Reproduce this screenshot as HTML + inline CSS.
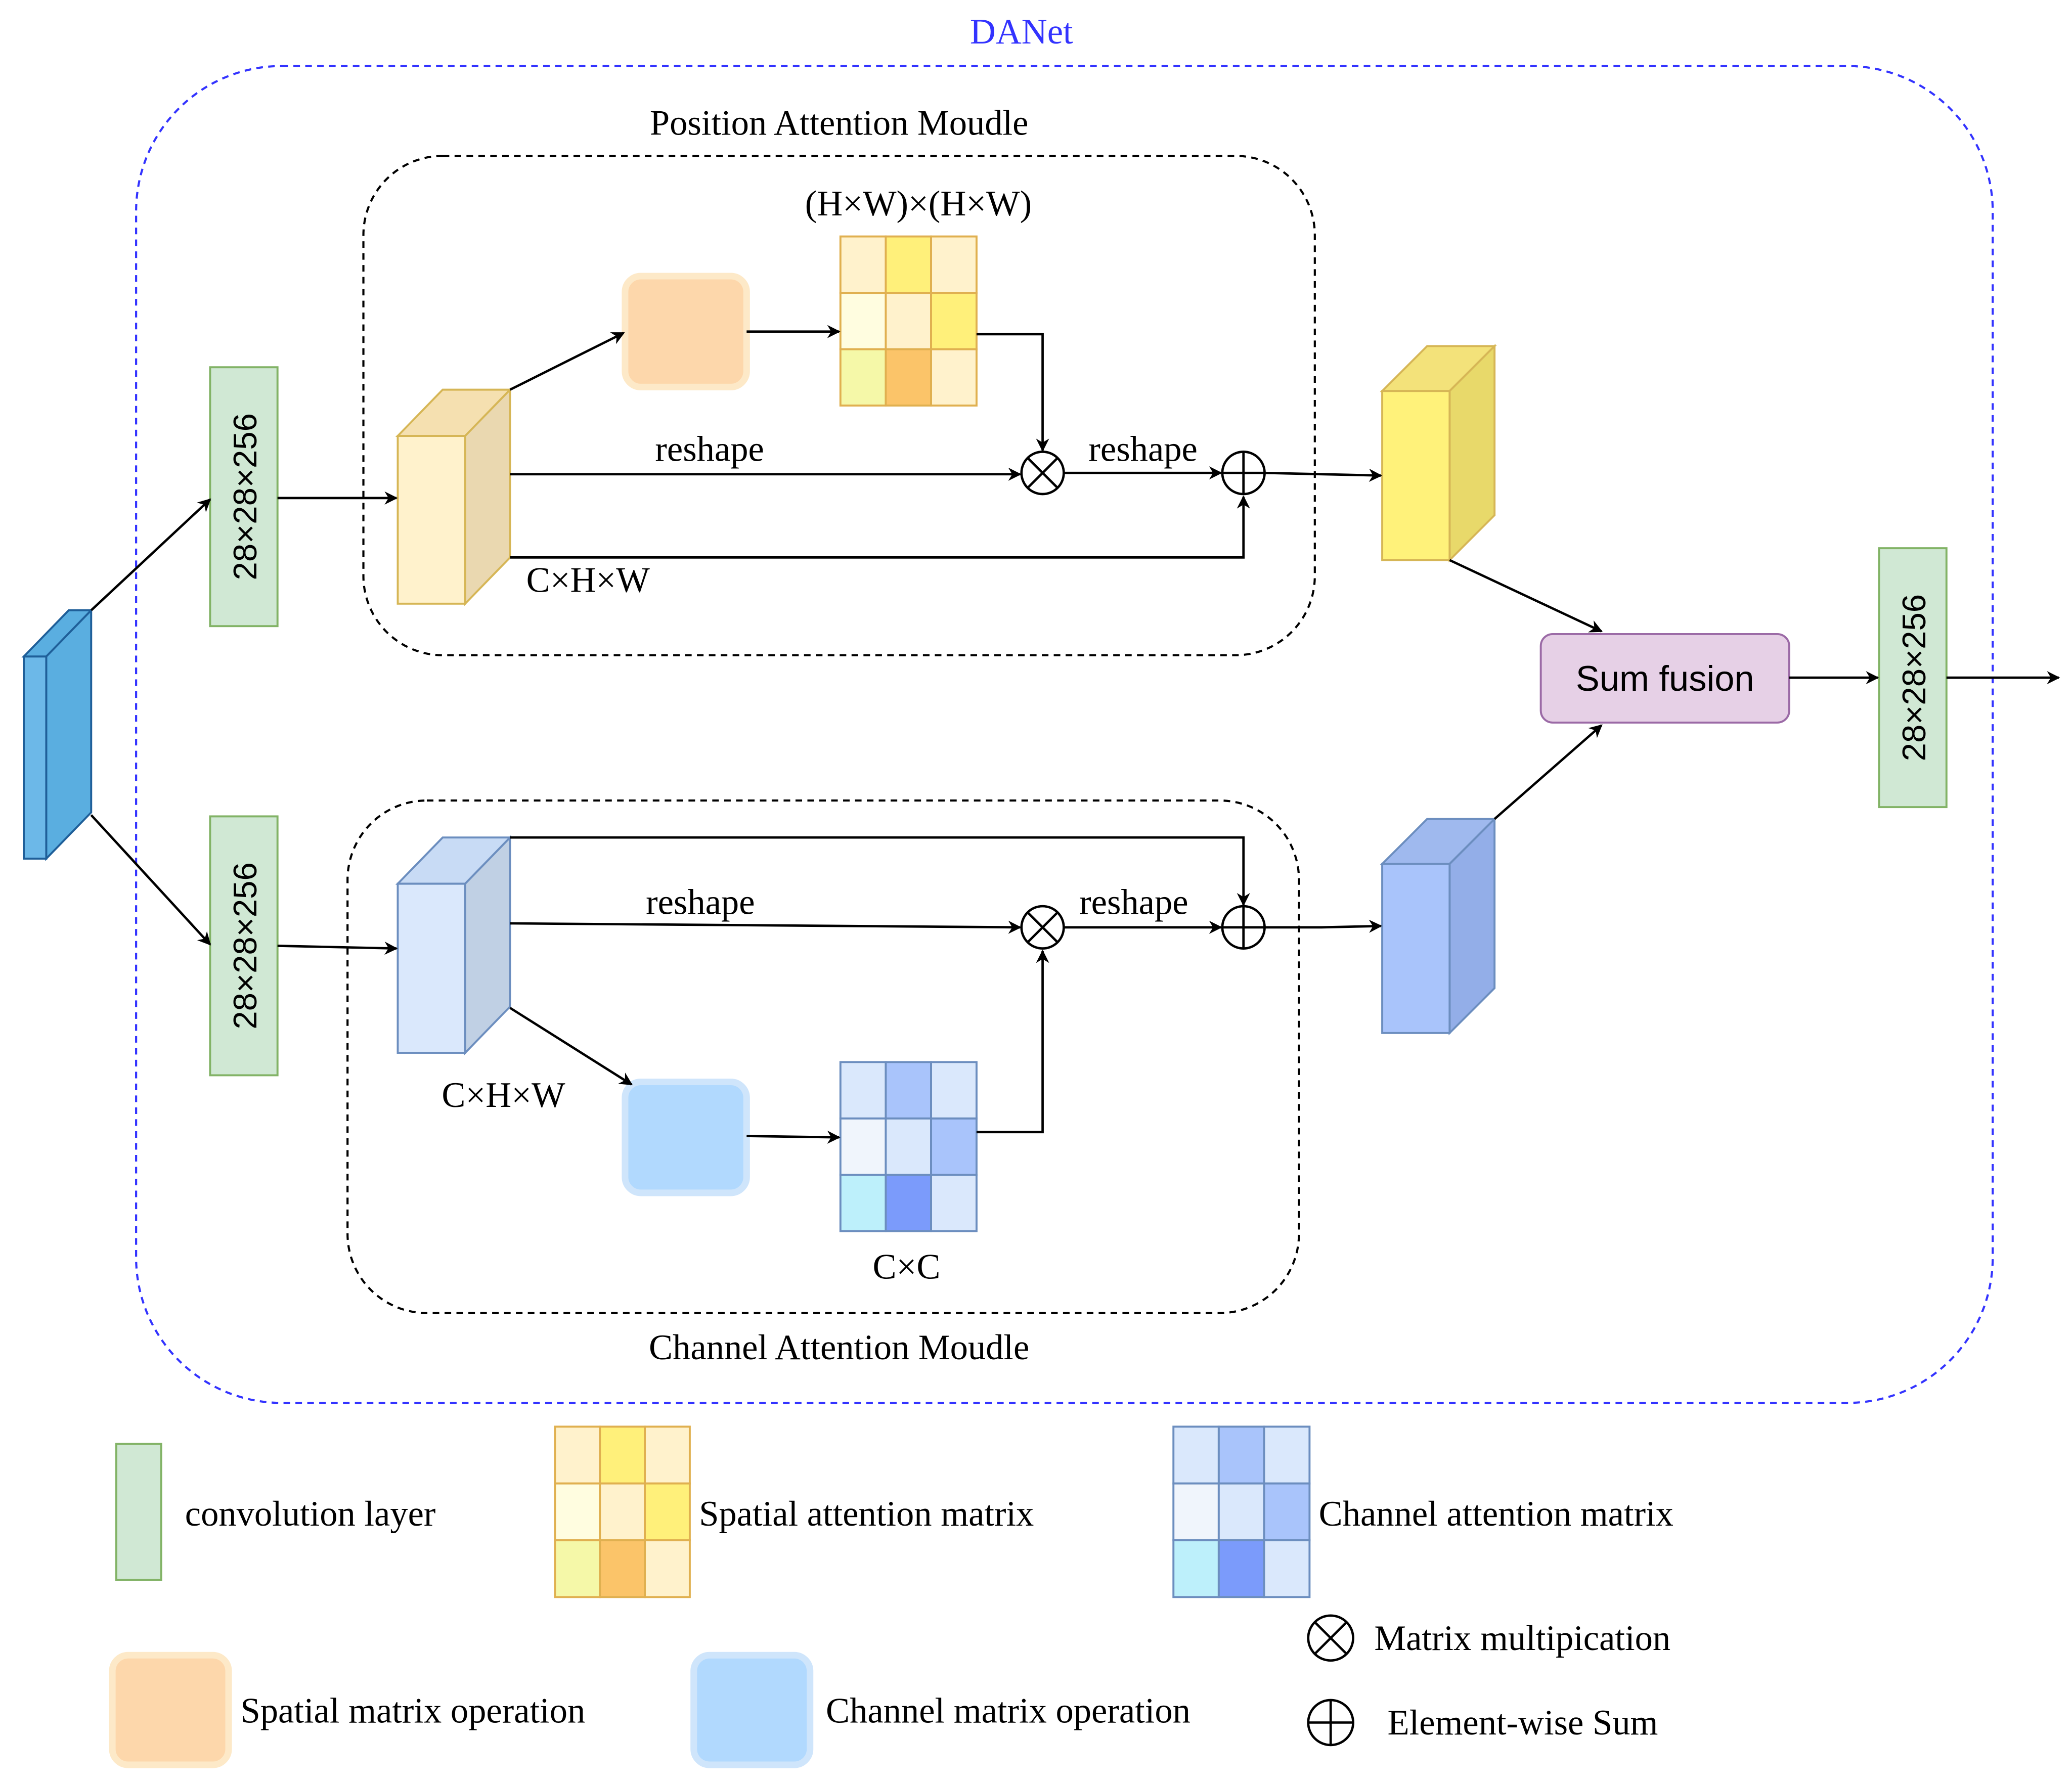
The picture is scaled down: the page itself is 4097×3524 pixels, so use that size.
<!DOCTYPE html>
<html><head><meta charset="utf-8"><style>html,body{margin:0;padding:0;background:#fff}svg{display:block}</style></head><body>
<svg width="4097" height="3524" viewBox="0 0 1568 1349" preserveAspectRatio="none" xmlns="http://www.w3.org/2000/svg" font-family="Liberation Serif, serif" font-size="27">
<defs>
<marker id="a" markerWidth="10" markerHeight="10" refX="9" refY="5" orient="auto" markerUnits="userSpaceOnUse"><path d="M0,0 L10,5 L0,10 L3,5 z" fill="#000"/></marker>
</defs>
<rect width="1568" height="1349" fill="#fff"/>
<text x="773" y="33" text-anchor="middle" fill="#3333ff">DANet</text>
<rect x="103" y="50" width="1405" height="1012" rx="110" fill="none" stroke="#3333ff" stroke-width="1.6" stroke-dasharray="5,4"/>
<rect x="275" y="118" width="720" height="378" rx="60" fill="none" stroke="#000" stroke-width="1.6" stroke-dasharray="5,4"/>
<rect x="263" y="606" width="720" height="388" rx="60" fill="none" stroke="#000" stroke-width="1.6" stroke-dasharray="5,4"/>
<text x="635" y="102" text-anchor="middle">Position Attention Moudle</text>
<text x="635" y="1029" text-anchor="middle">Channel Attention Moudle</text>
<text x="695" y="163" text-anchor="middle">(H×W)×(H×W)</text>

<g stroke="#1f5f99" stroke-width="1.5">
<polygon points="18,497 52,462 69,462 35,497" fill="#5aaee0"/>
<polygon points="35,497 69,462 69,615 35,650" fill="#5aaee0"/>
<rect x="18" y="497" width="17" height="153" fill="#6cb8e8"/>
</g>

<g fill="#d0e8d4" stroke="#82b366" stroke-width="1.5">
<rect x="159" y="278" width="51" height="196"/>
<rect x="159" y="618" width="51" height="196"/>
<rect x="1422" y="415" width="51" height="196"/>
<rect x="88" y="1093" width="34" height="103"/>
</g>
<g font-family="Liberation Sans, sans-serif" font-size="25" text-anchor="middle">
<text transform="translate(194,376) rotate(-90)">28×28×256</text>
<text transform="translate(194,716) rotate(-90)">28×28×256</text>
<text transform="translate(1457,513) rotate(-90)">28×28×256</text>
</g>

<g stroke="#d6b656" stroke-width="1.5">
<polygon points="301,330 335,295 386,295 352,330" fill="#f5e0b0"/>
<polygon points="352,330 386,295 386,422 352,457" fill="#ead8b0"/>
<rect x="301" y="330" width="51" height="127" fill="#fff2cc"/>
</g>
<g stroke="#6c8ebf" stroke-width="1.5">
<polygon points="301,669 335,634 386,634 352,669" fill="#c8dbf5"/>
<polygon points="352,669 386,634 386,762 352,797" fill="#c0d0e4"/>
<rect x="301" y="669" width="51" height="128" fill="#dae8fc"/>
</g>
<g stroke="#d6b656" stroke-width="1.5">
<polygon points="1046,296 1080,262 1131,262 1097,296" fill="#f3e27a"/>
<polygon points="1097,296 1131,262 1131,390 1097,424" fill="#e8d96a"/>
<rect x="1046" y="296" width="51" height="128" fill="#fff27a"/>
</g>
<g stroke="#6c8ebf" stroke-width="1.5">
<polygon points="1046,654 1080,620 1131,620 1097,654" fill="#9fb9ee"/>
<polygon points="1097,654 1131,620 1131,748 1097,782" fill="#93aee8"/>
<rect x="1046" y="654" width="51" height="128" fill="#a9c4fb"/>
</g>

<rect x="473" y="209" width="92" height="84" rx="12" fill="#fdd7ab" stroke="#fde9c8" stroke-width="5"/>
<rect x="473" y="819" width="92" height="84" rx="12" fill="#b1d9fe" stroke="#cfe5fb" stroke-width="5"/>
<rect x="85" y="1253" width="88" height="83" rx="12" fill="#fdd7ab" stroke="#fde9c8" stroke-width="5"/>
<rect x="525" y="1253" width="88" height="83" rx="12" fill="#b1d9fe" stroke="#cfe5fb" stroke-width="5"/>

<g stroke="#e0b050" stroke-width="1.5">
<rect x="636" y="179" width="34.3" height="42.7" fill="#fff2cc"/><rect x="670.3" y="179" width="34.3" height="42.7" fill="#fff07a"/><rect x="704.6" y="179" width="34.4" height="42.7" fill="#fff2cc"/>
<rect x="636" y="221.7" width="34.3" height="42.7" fill="#fffde0"/><rect x="670.3" y="221.7" width="34.3" height="42.7" fill="#fff2cc"/><rect x="704.6" y="221.7" width="34.4" height="42.7" fill="#fff07a"/>
<rect x="636" y="264.4" width="34.3" height="42.6" fill="#f5f8a8"/><rect x="670.3" y="264.4" width="34.3" height="42.6" fill="#fbc469"/><rect x="704.6" y="264.4" width="34.4" height="42.6" fill="#fff2cc"/>
</g>
<g stroke="#e0b050" stroke-width="1.5">
<rect x="420" y="1080" width="34" height="43" fill="#fff2cc"/><rect x="454" y="1080" width="34" height="43" fill="#fff07a"/><rect x="488" y="1080" width="34" height="43" fill="#fff2cc"/>
<rect x="420" y="1123" width="34" height="43" fill="#fffde0"/><rect x="454" y="1123" width="34" height="43" fill="#fff2cc"/><rect x="488" y="1123" width="34" height="43" fill="#fff07a"/>
<rect x="420" y="1166" width="34" height="43" fill="#f5f8a8"/><rect x="454" y="1166" width="34" height="43" fill="#fbc469"/><rect x="488" y="1166" width="34" height="43" fill="#fff2cc"/>
</g>
<g stroke="#6c8ebf" stroke-width="1.5">
<rect x="636" y="804" width="34.3" height="42.7" fill="#dae8fc"/><rect x="670.3" y="804" width="34.3" height="42.7" fill="#a9c4fb"/><rect x="704.6" y="804" width="34.4" height="42.7" fill="#dae8fc"/>
<rect x="636" y="846.7" width="34.3" height="42.7" fill="#f0f5fc"/><rect x="670.3" y="846.7" width="34.3" height="42.7" fill="#dae8fc"/><rect x="704.6" y="846.7" width="34.4" height="42.7" fill="#a9c4fb"/>
<rect x="636" y="889.4" width="34.3" height="42.6" fill="#bdf0fb"/><rect x="670.3" y="889.4" width="34.3" height="42.6" fill="#7b9bfb"/><rect x="704.6" y="889.4" width="34.4" height="42.6" fill="#dae8fc"/>
</g>
<g stroke="#6c8ebf" stroke-width="1.5">
<rect x="888" y="1080" width="34.3" height="43" fill="#dae8fc"/><rect x="922.3" y="1080" width="34.3" height="43" fill="#a9c4fb"/><rect x="956.6" y="1080" width="34.4" height="43" fill="#dae8fc"/>
<rect x="888" y="1123" width="34.3" height="43" fill="#f0f5fc"/><rect x="922.3" y="1123" width="34.3" height="43" fill="#dae8fc"/><rect x="956.6" y="1123" width="34.4" height="43" fill="#a9c4fb"/>
<rect x="888" y="1166" width="34.3" height="43" fill="#bdf0fb"/><rect x="922.3" y="1166" width="34.3" height="43" fill="#7b9bfb"/><rect x="956.6" y="1166" width="34.4" height="43" fill="#dae8fc"/>
</g>

<rect x="1166" y="480" width="188" height="67" rx="9" fill="#e6d0e6" stroke="#9b6aa6" stroke-width="1.5"/>
<text x="1260" y="523" text-anchor="middle" font-family="Liberation Sans, sans-serif" font-size="27">Sum fusion</text>

<g stroke="#000" stroke-width="1.8" fill="none" marker-end="url(#a)">
<line x1="69" y1="462" x2="159" y2="378"/>
<line x1="69" y1="617" x2="159" y2="715"/>
<line x1="210" y1="377" x2="300" y2="377"/>
<line x1="210" y1="716" x2="300" y2="718"/>
<line x1="386" y1="295" x2="472" y2="252"/>
<line x1="565" y1="251" x2="635" y2="251"/>
<polyline points="739,253 789,253 789,341"/>
<line x1="386" y1="359" x2="772" y2="359"/>
<line x1="805" y1="358" x2="924" y2="358"/>
<polyline points="386,422 941,422 941,376"/>
<line x1="957" y1="358" x2="1045" y2="360"/>
<line x1="1097" y1="424" x2="1212" y2="478"/>
<line x1="1131" y1="620" x2="1212" y2="549"/>
<line x1="1354" y1="513" x2="1421" y2="513"/>
<line x1="1473" y1="513" x2="1558" y2="513"/>
<polyline points="386,634 941,634 941,685"/>
<line x1="386" y1="699" x2="772" y2="702"/>
<line x1="805" y1="702" x2="924" y2="702"/>
<polyline points="957,702 1000,702 1045,701"/>
<line x1="386" y1="763" x2="478" y2="821"/>
<line x1="565" y1="860" x2="635" y2="861"/>
<polyline points="739,857 789,857 789,720"/>
</g>

<g stroke="#000" stroke-width="1.8" fill="#fff">
<circle cx="789" cy="358" r="16"/><path d="M778,347 L800,369 M800,347 L778,369"/>
<circle cx="941" cy="358" r="16"/><path d="M925,358 H957 M941,342 V374"/>
<circle cx="789" cy="702" r="16"/><path d="M778,691 L800,713 M800,691 L778,713"/>
<circle cx="941" cy="702" r="16"/><path d="M925,702 H957 M941,686 V718"/>
<circle cx="1007" cy="1240" r="17"/><path d="M995,1228 L1019,1252 M1019,1228 L995,1252"/>
<circle cx="1007" cy="1304" r="17"/><path d="M990,1304 H1024 M1007,1287 V1321"/>
</g>

<text x="537" y="349" text-anchor="middle">reshape</text>
<text x="865" y="349" text-anchor="middle">reshape</text>
<text x="530" y="692" text-anchor="middle">reshape</text>
<text x="858" y="692" text-anchor="middle">reshape</text>
<text x="445" y="448" text-anchor="middle">C×H×W</text>
<text x="381" y="838" text-anchor="middle">C×H×W</text>
<text x="686" y="968" text-anchor="middle">C×C</text>

<text x="140" y="1155">convolution layer</text>
<text x="529" y="1155">Spatial attention matrix</text>
<text x="998" y="1155">Channel attention matrix</text>
<text x="182" y="1304">Spatial matrix operation</text>
<text x="625" y="1304">Channel matrix operation</text>
<text x="1040" y="1249">Matrix multipication</text>
<text x="1050" y="1313">Element-wise Sum</text>
</svg>
</body></html>
